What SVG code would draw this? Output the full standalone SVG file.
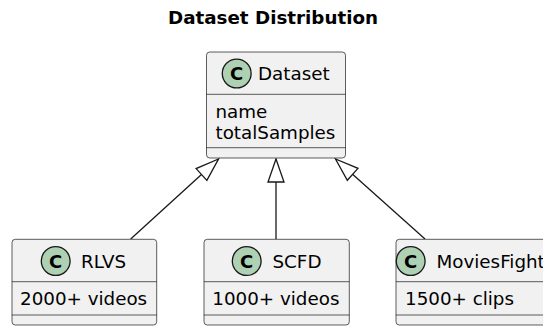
<svg xmlns="http://www.w3.org/2000/svg" width="543" height="329" viewBox="0 0 543 329">
<style>
.box{fill:#F1F1F1;stroke:#181818;stroke-width:0.7}
.sep{stroke:#181818;stroke-width:0.7}
.circ{fill:#ADD1B2;stroke:#181818;stroke-width:1.3}
.cl{font-family:"DejaVu Sans",sans-serif;font-size:18px;font-weight:bold;fill:#000;text-anchor:middle}
.t{font-family:"DejaVu Sans",sans-serif;font-size:18.3px;fill:#000}
.title{font-family:"DejaVu Sans",sans-serif;font-size:18.3px;font-weight:bold;fill:#000;text-anchor:middle}
.edge{fill:none;stroke:#181818;stroke-width:1.3}
</style>
<defs>
<marker id="ext" markerUnits="userSpaceOnUse" markerWidth="28" markerHeight="22" refX="25" refY="10" orient="auto" viewBox="0 0 28 20">
<path d="M25,10 L2,2 L2,18 Z" fill="#FFFFFF" stroke="#181818" stroke-width="1.3"/>
</marker>
</defs>
<rect width="543" height="329" fill="#FFFFFF"/>
<text class="title" x="273" y="24">Dataset Distribution</text>
<g id="connectors">
<path class="edge" d="M130.7,239 L218.5,159" marker-end="url(#ext)"/>
<path class="edge" d="M276,239 L276,159" marker-end="url(#ext)"/>
<path class="edge" d="M425,239 L335.5,159" marker-end="url(#ext)"/>
</g>
<g id="Dataset">
<rect class="box" x="206.5" y="52" width="139" height="106" rx="3.3"/>
<line class="sep" x1="206.5" y1="94.3" x2="345.5" y2="94.3"/>
<line class="sep" x1="206.5" y1="147.7" x2="345.5" y2="147.7"/>
<circle class="circ" cx="236.7" cy="73.5" r="14.4"/>
<text class="cl" x="236.7" y="80">C</text>
<text class="t" x="258" y="80">Dataset</text>
<text class="t" x="215.5" y="117.5">name</text>
<text class="t" x="215.5" y="139">totalSamples</text>
</g>
<g id="RLVS">
<rect class="box" x="12" y="239.3" width="144.7" height="85.7" rx="3.3"/>
<line class="sep" x1="12" y1="281.7" x2="156.7" y2="281.7"/>
<line class="sep" x1="12" y1="315" x2="156.7" y2="315"/>
<circle class="circ" cx="55.7" cy="261" r="14.4"/>
<text class="cl" x="55.7" y="267.5">C</text>
<text class="t" x="81" y="267.5">RLVS</text>
<text class="t" x="20" y="305">2000+ videos</text>
</g>
<g id="SCFD">
<rect class="box" x="204" y="239.3" width="145.3" height="85.7" rx="3.3"/>
<line class="sep" x1="204" y1="281.7" x2="349.3" y2="281.7"/>
<line class="sep" x1="204" y1="315" x2="349.3" y2="315"/>
<circle class="circ" cx="246.7" cy="261" r="14.4"/>
<text class="cl" x="246.7" y="267.5">C</text>
<text class="t" x="272.5" y="267.5">SCFD</text>
<text class="t" x="212.3" y="305">1000+ videos</text>
</g>
<g id="MoviesFight">
<rect class="box" x="396" y="239.3" width="160" height="85.7" rx="3.3"/>
<line class="sep" x1="396" y1="281.7" x2="556" y2="281.7"/>
<line class="sep" x1="396" y1="315" x2="556" y2="315"/>
<circle class="circ" cx="410.7" cy="261" r="14.4"/>
<text class="cl" x="410.7" y="267.5">C</text>
<text class="t" x="436.5" y="267.5">MoviesFight</text>
<text class="t" x="405" y="305">1500+ clips</text>
</g>
</svg>
